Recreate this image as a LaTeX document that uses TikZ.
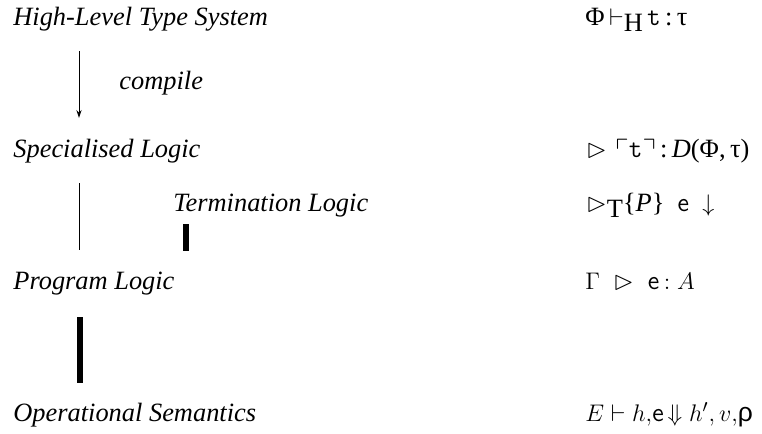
\documentclass[tikz,border=0pt]{standalone}
\usepackage{fontspec}
\usepackage{amssymb}
\setmainfont{Liberation Serif}
\newfontfamily\grsans{Liberation Sans}
\usetikzlibrary{arrows.meta}
\begin{document}
\begin{tikzpicture}[x=0.5pt,y=-0.5pt,
  lbl/.style={anchor=base west,inner sep=0pt,font=\fontsize{13.2}{15.8}\selectfont\itshape},
  frm/.style={anchor=base west,inner sep=0pt,font=\fontsize{13.2}{15.8}\selectfont},
  thin/.style={line width=0.5pt},
  thick bar/.style={line width=3pt},
  arr/.style={thin,-{Stealth[length=4pt,width=2.6pt]}}]
\useasboundingbox (0,0) rectangle (762,434);
% left column labels
\node[lbl] (hl) at (13,25) {High-Level Type System};
\node[lbl] (cp) at (119,89) {compile};
\node[lbl] (sl) at (13,157) {Specialised Logic};
\node[lbl] (tl) at (173,211) {Termination Logic};
\node[lbl] (pl) at (13,289) {Program Logic};
\node[lbl] (os) at (13,421) {Operational Semantics};
% right column formulas
\node[frm] (f1) at (585,25) {Φ\,$\vdash$\raisebox{-0.5ex}{H}\,\texttt{t}\,:\,τ};
\node[frm] (f2) at (586,157) {$\rhd$\,\,$\ulcorner$\texttt{t}$\urcorner$\,:\,\textit{D}(Φ,\,τ)};
\node[frm] (f3) at (586,211) {$\rhd$\raisebox{-0.5ex}{T}\{\textit{P}\}\enspace{\sffamily e}\enspace$\downarrow$};
\node[frm] (f4) at (585,289) {$\Gamma\;\;\rhd\;$\;{\sffamily e}\,$:A$};
\node[frm] (f5) at (585,421) {$E\vdash h,${\sffamily e}$\,\Downarrow h',v,${\grsans ρ}};
% connector end points
\coordinate (a1) at (79,51);
\coordinate (a2) at (79,118);
\coordinate (b1) at (79,183);
\coordinate (b2) at (79,250);
\coordinate (c1) at (186,224);
\coordinate (c2) at (186,251);
\coordinate (d1) at (80,317);
\coordinate (d2) at (80,383);
\draw[arr] (a1) -- (a2);
\draw[thin] (b1) -- (b2);
\draw[thick bar] (c1) -- (c2);
\draw[thick bar] (d1) -- (d2);
\end{tikzpicture}
\end{document}
